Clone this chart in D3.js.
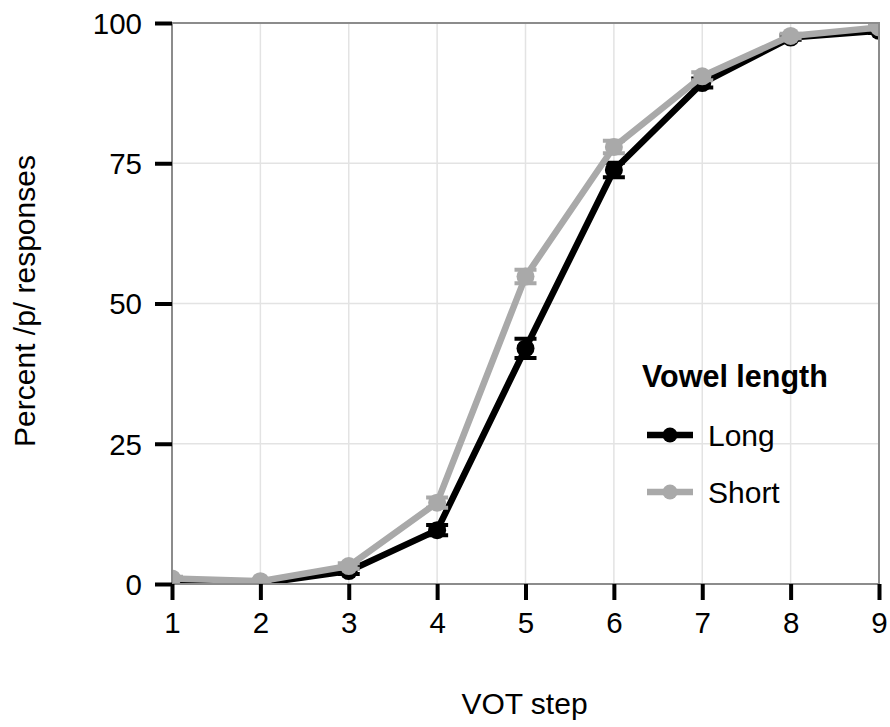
<!DOCTYPE html>
<html>
<head>
<meta charset="utf-8">
<script src="https://cdn.jsdelivr.net/npm/d3@7"></script>
<style>
body { margin: 0; background: #fff; }
text { font-family: "Liberation Sans", Arial, sans-serif; }
</style>
</head>
<body>
<svg width="890" height="727"></svg>
<script>
var steps = [1, 2, 3, 4, 5, 6, 7, 8, 9];
var longVals  = [0.6, 0.1, 2.3, 9.6, 42.0, 73.8, 89.3, 97.4, 98.6];
var longErr   = [0.3, 0.2, 0.5, 0.9, 1.7, 1.3, 0.8, 0.4, 0.4];
var shortVals = [1.0, 0.5, 3.2, 14.5, 54.8, 77.9, 90.5, 97.7, 99.2];
var shortErr  = [0.3, 0.2, 0.5, 0.9, 1.2, 1.1, 0.7, 0.4, 0.3];
var yTicks = [0, 25, 50, 75, 100];
var seriesNames = ["Long", "Short"];
var seriesColors = ["#000000", "#a9a9a9"];

var svg = d3.select("svg"),
    margin = {left: 172, right: 11, top: 23, bottom: 143},
    width = 890 - margin.left - margin.right,
    height = 727 - margin.top - margin.bottom;

var x = d3.scaleLinear().domain([1, 9]).range([0, width]);
var y = d3.scaleLinear().domain([0, 100]).range([height, 0]);

var g = svg.append("g")
    .attr("transform", "translate(" + margin.left + "," + margin.top + ")");

svg.append("defs").append("clipPath").attr("id", "clip")
  .append("rect").attr("width", width).attr("height", height);

// grid
g.selectAll(".vgrid").data(steps).enter().append("line")
  .attr("x1", d => x(d)).attr("x2", d => x(d))
  .attr("y1", 0).attr("y2", height)
  .attr("stroke", "#e3e3e3").attr("stroke-width", 1.5);
g.selectAll(".hgrid").data(yTicks).enter().append("line")
  .attr("x1", 0).attr("x2", width)
  .attr("y1", d => y(d)).attr("y2", d => y(d))
  .attr("stroke", "#e3e3e3").attr("stroke-width", 1.5);

var series = [
  {name: seriesNames[0], color: seriesColors[0], vals: longVals, err: longErr},
  {name: seriesNames[1], color: seriesColors[1], vals: shortVals, err: shortErr}
];

var plot = g.append("g").attr("clip-path", "url(#clip)");
var line = d3.line().x(d => x(d.s)).y(d => y(d.v));

series.forEach(function(sr) {
  var pts = steps.map((s, i) => ({s: s, v: sr.vals[i], e: sr.err[i]}));
  var sg = plot.append("g");
  sg.selectAll(".eb").data(pts).enter().append("path")
    .attr("d", d => "M" + (x(d.s) - 11) + "," + y(d.v + d.e) + "h22" +
                    "M" + x(d.s) + "," + y(d.v + d.e) + "V" + y(d.v - d.e) +
                    "M" + (x(d.s) - 11) + "," + y(d.v - d.e) + "h22")
    .attr("stroke", sr.color).attr("stroke-width", 4).attr("fill", "none");
  sg.append("path").datum(pts)
    .attr("d", line)
    .attr("fill", "none").attr("stroke", sr.color)
    .attr("stroke-width", 6.5).attr("stroke-linejoin", "round");
  sg.selectAll("circle").data(pts).enter().append("circle")
    .attr("cx", d => x(d.s)).attr("cy", d => y(d.v)).attr("r", 9)
    .attr("fill", sr.color);
});

// panel border
g.append("rect").attr("width", width).attr("height", height)
  .attr("fill", "none").attr("stroke", "#8c8c8c").attr("stroke-width", 2);

// axes
var xAxis = g.append("g").attr("transform", "translate(0," + height + ")")
  .call(d3.axisBottom(x).tickValues(steps).tickSize(16).tickFormat(d3.format("d")));
var yAxis = g.append("g")
  .call(d3.axisLeft(y).tickValues(yTicks).tickSize(17).tickPadding(13));
[xAxis, yAxis].forEach(function(a) {
  a.select(".domain").remove();
  a.selectAll(".tick line").attr("stroke", "#000").attr("stroke-width", 4);
  a.selectAll(".tick text").attr("fill", "#000").style("font-size", "29.5px")
    .style("font-family", "'Liberation Sans', Arial, sans-serif");
});
xAxis.selectAll(".tick text").attr("y", 49).attr("dy", null);
yAxis.selectAll(".tick text").attr("dy", "0.35em");

svg.append("text").attr("x", margin.left + width / 2 - 1).attr("y", 714)
  .attr("text-anchor", "middle").style("font-size", "30px").text("VOT step");
svg.append("text")
  .attr("transform", "translate(35," + 301 + ") rotate(-90)")
  .attr("text-anchor", "middle").style("font-size", "30px").text("Percent /p/ responses");

// legend
var lg = svg.append("g").attr("transform", "translate(642,387)");
lg.append("text").attr("x", 0).attr("y", 0)
  .style("font-size", "30.5px").style("font-weight", "bold").text("Vowel length");
series.forEach(function(sr, i) {
  var yy = 48 + i * 57;
  lg.append("line").attr("x1", 5).attr("x2", 51).attr("y1", yy).attr("y2", yy)
    .attr("stroke", sr.color).attr("stroke-width", 6.5);
  lg.append("circle").attr("cx", 28).attr("cy", yy).attr("r", 7.5).attr("fill", sr.color);
  lg.append("text").attr("x", 66).attr("y", yy + 11)
    .style("font-size", "30px").text(sr.name);
});
</script>
</body>
</html>
